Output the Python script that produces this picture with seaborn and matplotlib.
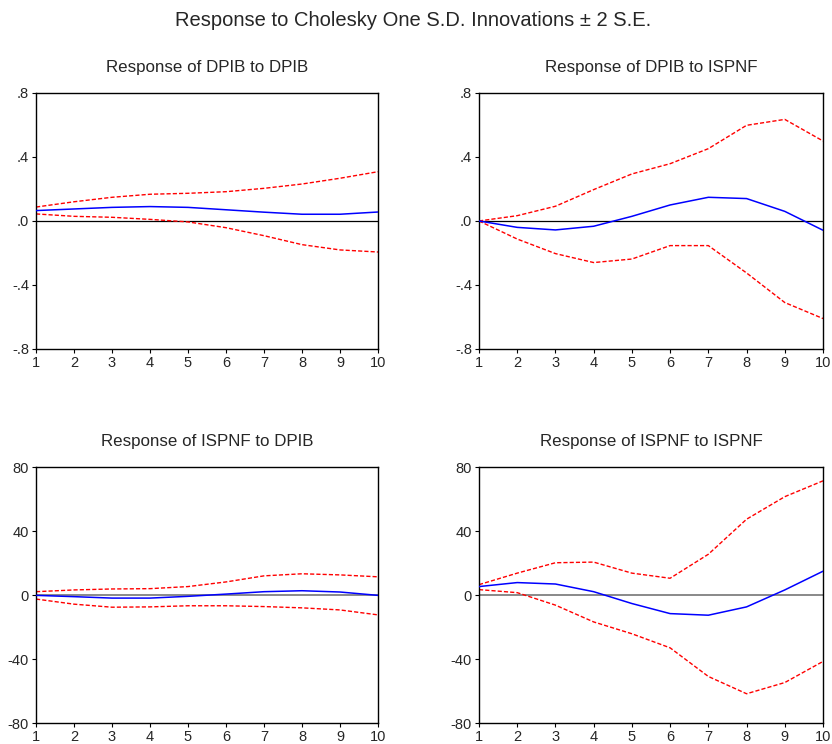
import matplotlib
matplotlib.use("Agg")
import matplotlib.pyplot as plt
import seaborn as sns
import pandas as pd
import numpy as np

periods = list(range(1, 11))

# Response of DPIB to DPIB
dd_resp = [0.065, 0.075, 0.085, 0.090, 0.085, 0.070, 0.055, 0.042, 0.042, 0.056]
dd_up = [0.087, 0.120, 0.148, 0.167, 0.173, 0.183, 0.204, 0.231, 0.267, 0.308]
dd_lo = [0.044, 0.029, 0.023, 0.010, -0.006, -0.042, -0.092, -0.148, -0.181, -0.194]

# Response of DPIB to ISPNF
di_resp = [0.0, -0.040, -0.056, -0.033, 0.029, 0.100, 0.148, 0.140, 0.060, -0.058]
di_up = [0.0, 0.033, 0.092, 0.196, 0.294, 0.358, 0.452, 0.598, 0.635, 0.500]
di_lo = [0.0, -0.113, -0.204, -0.260, -0.238, -0.154, -0.154, -0.325, -0.510, -0.610]

# Response of ISPNF to DPIB
id_resp = [-0.2, -1.0, -1.9, -1.9, -0.8, 0.6, 2.1, 2.7, 1.9, -0.2]
id_up = [2.1, 3.2, 3.8, 4.0, 5.3, 8.2, 12.0, 13.3, 12.6, 11.4]
id_lo = [-2.5, -5.7, -7.6, -7.4, -6.7, -6.7, -7.2, -8.0, -9.3, -12.4]

# Response of ISPNF to ISPNF
ii_resp = [5.3, 7.8, 6.9, 2.1, -5.3, -11.6, -12.6, -7.4, 3.2, 14.9]
ii_up = [6.5, 13.7, 20.2, 20.6, 13.7, 10.5, 25.5, 47.4, 61.5, 71.4]
ii_lo = [3.4, 1.5, -6.3, -16.8, -24.2, -33.0, -50.9, -61.7, -54.7, -41.5]

titles = ["Response of DPIB to DPIB", "Response of DPIB to ISPNF",
          "Response of ISPNF to DPIB", "Response of ISPNF to ISPNF"]
top_ticks = [-0.8, -0.4, 0.0, 0.4, 0.8]
top_labels = ["-.8", "-.4", ".0", ".4", ".8"]
bot_ticks = [-80, -40, 0, 40, 80]
bot_labels = ["-80", "-40", "0", "40", "80"]

sns.set_style("white")
plt.rcParams['font.family'] = ['Liberation Sans', 'DejaVu Sans']

fig = plt.figure(figsize=(8.32, 7.44), dpi=100)

H = 0.344
positions = [
    [0.0433, 0.531, 0.411, H],
    [0.5757, 0.531, 0.4135, H],
    [0.0433, 0.0282, 0.411, H],
    [0.5757, 0.0282, 0.4135, H],
]
series = [(dd_resp, dd_up, dd_lo), (di_resp, di_up, di_lo),
          (id_resp, id_up, id_lo), (ii_resp, ii_up, ii_lo)]

for i, (pos, (resp, up, lo)) in enumerate(zip(positions, series)):
    ax = fig.add_axes(pos)
    df = pd.DataFrame({"period": periods, "resp": resp, "up": up, "lo": lo})
    top = i < 2
    zc = "black" if top else "#808080"
    ax.axhline(0, color=zc, lw=0.9 if top else 1.3, zorder=1)
    sns.lineplot(data=df, x="period", y="up", ax=ax, color="red", lw=1.0,
                 linestyle=(0, (3, 1.5)), zorder=2)
    sns.lineplot(data=df, x="period", y="lo", ax=ax, color="red", lw=1.0,
                 linestyle=(0, (3, 1.5)), zorder=2)
    sns.lineplot(data=df, x="period", y="resp", ax=ax, color="blue", lw=1.1, zorder=3)
    ax.set_xlim(1, 10)
    if top:
        ax.set_ylim(-0.8, 0.8)
        ax.set_yticks(top_ticks)
        ax.set_yticklabels(top_labels)
    else:
        ax.set_ylim(-80, 80)
        ax.set_yticks(bot_ticks)
        ax.set_yticklabels(bot_labels)
    ax.set_xticks(periods)
    ax.set_xticklabels([str(p) for p in periods])
    ax.set_xlabel("")
    ax.set_ylabel("")
    ax.set_title(titles[i], fontsize=12.2, pad=15)
    for s in ax.spines.values():
        s.set_visible(True)
        s.set_color("black")
        s.set_linewidth(1.0)
    ax.tick_params(axis="both", which="major", direction="out", length=3,
                   width=0.8, color="black", labelsize=10.5, pad=2,
                   bottom=True, left=True)
    ax.grid(False)

fig.text(0.497, 0.973, "Response to Cholesky One S.D. Innovations \u00b1 2 S.E.",
         ha="center", va="center", fontsize=14.5)

fig.savefig("out.png", dpi=100)
